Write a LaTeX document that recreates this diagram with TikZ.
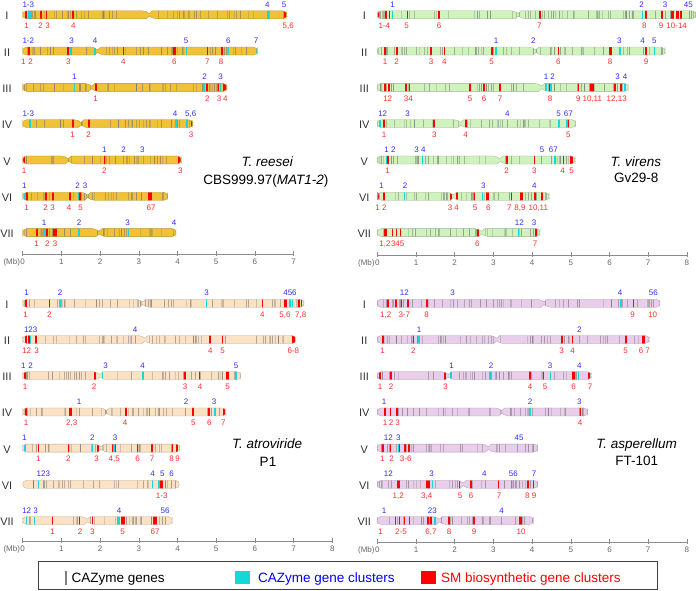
\documentclass[tikz,border=0pt]{standalone}
\usepackage{fontspec}
\setmainfont{Liberation Sans}
\usepackage{tikz}

\definecolor{chrgold}{RGB}{242,194,54}
\definecolor{chrgreen}{RGB}{208,242,188}
\definecolor{chrpeach}{RGB}{252,226,196}
\definecolor{chrlilac}{RGB}{232,206,234}
\definecolor{cazcyan}{RGB}{20,215,220}
\definecolor{smred}{RGB}{255,0,0}
\definecolor{labblue}{RGB}{45,45,255}
\definecolor{labred}{RGB}{255,45,45}

\tikzset{
  bluelab/.style={text=labblue, font=\fontsize{8}{9}\selectfont, inner sep=0pt, anchor=base},
  redlab/.style={text=labred, font=\fontsize{8}{9}\selectfont, inner sep=0pt, anchor=base},
  chrname/.style={text=black!80, font=\fontsize{11}{12}\selectfont, inner sep=0pt, anchor=base},
  strain/.style={font=\fontsize{13.5}{15}\selectfont, inner sep=0pt, anchor=base},
  axisline/.style={black!45, line width=0.6pt},
  ticklab/.style={text=black!60, font=\fontsize{8}{9}\selectfont, inner sep=0pt, anchor=base},
  legtext/.style={font=\fontsize{13.5}{15}\selectfont, inner sep=0pt, anchor=base west},
}

% #1 y, #2 start, #3 end, #4 centromere (0 = none), #5 colour, #6 seed,
% #7 CAZyme clusters (x/width), #8 SM clusters (x/width)
\newcommand{\chrom}[8]{%
  \ifdim #4pt=0pt
    \def\chrpath{[rounded corners=3.9pt] (#2,#1-4) rectangle (#3,#1+4)}%
  \else
    \def\chrpath{(#2,#1) [rounded corners=3.9pt] |- (#4-3,#1-4) [sharp corners] -- (#4,#1-1.3) -- (#4+3,#1-4) -- (#3-4,#1-4) [rounded corners=3.9pt] -| (#3,#1) |- (#4+3,#1+4) [sharp corners] -- (#4,#1+1.3) -- (#4-3,#1+4) -- (#2+4,#1+4) [rounded corners=3.9pt] -| (#2,#1) -- cycle}%
  \fi
  \begin{scope}
    \clip \chrpath;
    \fill[#5] (#2-1,#1-5) rectangle (#3+1,#1+5);
    % CAZyme genes
    \pgfmathsetseed{#6}
    \pgfmathtruncatemacro\nstripes{(#3-#2)/5.5}
    \foreach \k in {1,...,\nstripes} {
      \pgfmathsetmacro\sx{#2+1+rnd*(#3-#2-2)}
      \pgfmathsetmacro\so{0.25+0.4*rnd}
      \fill[black!55, opacity=\so] (\sx-0.5,#1-5) rectangle (\sx+0.5,#1+5);
    }
    \foreach \c/\w in {#7} \fill[cazcyan] (\c-\w/2,#1-5) rectangle (\c+\w/2,#1+5);
    \foreach \s/\w in {#8} \fill[smred] (\s-\w/2,#1-5) rectangle (\s+\w/2,#1+5);
  \end{scope}
  \draw[#5!75!black, line width=0.3pt] \chrpath;
}

% #1 name, #2 y, #3 cluster labels above, #4 SM labels below
\newcommand{\chrlab}[4]{%
  \foreach \x/\t [count=\i] in {#3} \node[bluelab] (#1b\i) at (\x,#2-7.4) {\t};
  \foreach \x/\t [count=\i] in {#4} \node[redlab] (#1r\i) at (\x,#2+13.7) {\t};
}

\begin{document}
\begin{tikzpicture}[x=1pt, y=-1pt]
  \useasboundingbox (0,0) rectangle (696,591);

  % Chromosome names
  \foreach \n [count=\k from 0] in {I,II,III,IV,V,VI,VII} {
    \node[chrname] (re\n) at (7,19.8+36.3*\k) {\n};
    \node[chrname] (vi\n) at (364.3,19.8+36.3*\k) {\n};
    \node[chrname] (at\n) at (7,308.3+36.2*\k) {\n};
    \node[chrname] (as\n) at (364.3,308.3+36.2*\k) {\n};
  }

  % T. reesei
  \chrom{14.8}{22.7}{286.7}{149.3}{chrgold}{11}{29.7/3.6, 268/1.4, 283.5/1.4}{25.8/1.8, 41/1.8, 46.5/1.4, 73/1.6, 285.5/2.5}
  \chrlab{reI}{14.8}{28.3/1-3, 267.3/4, 284/5}{26.7/1, 40.7/2, 47.7/3, 73.3/4, 288.3/{5,6}}
  \chrom{51.1}{22.7}{257.3}{97.7}{chrgold}{12}{28/1.4, 70/1.2, 95/1.4, 186/1, 228.3/1, 256/1}{29.3/2, 68.3/1.8, 123.3/1.4, 174.7/3, 207.3/1.4, 221.7/1.6}
  \chrlab{reII}{51.1}{28.3/1-2, 71.7/3, 95/4, 186/5, 228.3/6, 256/7}{23.3/1, 30.7/2, 68.3/3, 123.3/4, 174.3/6, 207.3/7, 221/8}
  \chrom{87.4}{22.7}{226.7}{91.7}{chrgold}{13}{74.3/1.2, 204/1.4, 220.7/1.4}{95.7/2, 206.7/1.8, 218.7/1.4, 224.5/2.5}
  \chrlab{reIII}{87.4}{74.3/1, 204.7/2, 220.7/3}{95.7/1, 207.3/2, 219/3, 225.3/4}
  \chrom{123.7}{22.7}{192.7}{81}{chrgold}{14}{30/1.2, 176/1.2, 186.7/2}{72.7/2, 88.7/2, 191.5/2}
  \chrlab{reIV}{123.7}{28.3/1-3, 175/4, 190.7/{5,6}}{72.7/1, 88.7/2, 191/3}
  \chrom{160}{22.7}{181}{68.3}{chrgold}{15}{105.3/1.2, 123.7/1.2, 143.3/1.2}{24/2, 104.3/1.6, 179.5/2.5}
  \chrlab{reV}{160}{104.3/1, 123.7/2, 142.3/3}{24/1, 104.3/2, 180.3/3}
  \chrom{196.3}{22.7}{167.7}{87.7}{chrgold}{16}{25/1.2, 78.3/1.4, 81.3/1.2}{26.7/1.8, 45.7/1.6, 52.7/1.6, 70/2.2, 80/1.6, 149/1.6, 150.8/1.6}
  \chrlab{reVI}{196.3}{24.3/1, 77.7/2, 85/3}{26.7/1, 45.7/2, 52.7/3, 69/4, 80.7/5, 151/67}
  \chrom{232.6}{22.7}{176}{99}{chrgold}{17}{44.5/2.4, 79/1.2, 128.3/1.2, 173.3/1}{36.7/1.6, 46.7/1.6, 55.3/4}
  \chrlab{reVII}{232.6}{44/1, 79/2, 127.7/3, 174/4}{36.7/1, 47.3/2, 55/3}

  % T. virens
  \chrom{14.8}{377.3}{695.7}{518.3}{chrgreen}{21}{392.7/1.4, 642.7/1.4, 665.7/1.2, 689.3/1.2, 691/1}{378.3/1.6, 385.7/2, 389.3/1.4, 407.3/1.6, 439/1.6, 540/2, 645.7/1.6, 662/1.6, 672.5/3.6, 677.3/2.6, 681/1.6}
  \chrlab{viI}{14.8}{392.7/1, 641.7/2, 665/3, 688.3/45}{384.3/1-4, 406.7/5, 439/6, 539.3/7, 644.3/8, 661/9, 676.7/10-14}
  \chrom{51.1}{377.3}{665}{535.7}{chrgreen}{22}{496/1.2, 533.3/1.2, 620/1.2, 643.3/1.2, 654.3/1.2}{385/1.8, 396.7/1.6, 431/1.2, 444.3/1.2, 491.7/2.2, 558.3/1.6, 610/3, 646/1.8}
  \chrlab{viII}{51.1}{496/1, 533.3/2, 619.3/3, 642.7/4, 654.3/5}{385/1, 396.7/2, 431/3, 444.3/4, 491.7/5, 558.3/6, 610/8, 646/9}
  \chrom{87.4}{377.3}{628.3}{541.7}{chrgreen}{23}{546/1.2, 551/1.2, 617.7/1.4, 625/1.4}{385/1.6, 388.7/1.6, 406/1.4, 409.3/1.6, 470/1.2, 484/1.2, 500/1.8, 549.3/1.6, 578.3/1.2, 592/3.4, 615/1.6, 621.3/1.8}
  \chrlab{viIII}{87.4}{546/1, 552.7/2, 617.7/3, 625/4}{387.7/12, 408.3/34, 470/5, 484/6, 500/7, 550/8, 578.3/9, 592.3/{10,11}, 616.7/{12,13}}
  \chrom{123.7}{377.3}{575.7}{460.7}{chrgreen}{24}{380/1.2, 507.3/1.2, 558.7/1.2, 566.7/1.6}{384/2, 434.3/1.8, 465.7/1.6, 568.5/1.6}
  \chrlab{viIV}{123.7}{382.7/12, 407.7/3, 507.3/4, 558.7/5, 568.3/67}{384/1, 434.3/3, 465.7/4, 568.3/5}
  \chrom{160}{377.3}{575}{500}{chrgreen}{25}{386.7/1.2, 393.3/1.2, 417.7/1.2, 422.7/1.2, 541.7/1.2, 551.7/1.2, 555/1.2}{387.7/1.6, 506.7/1.8, 534.3/1.6, 563.3/1.4, 571.3/2.8}
  \chrlab{viV}{160}{386.7/1, 393.3/2, 416.7/3, 423.3/4, 542/5, 553.3/67}{387.7/1, 506.7/2, 534.3/3, 562.7/4, 571.7/5}
  \chrom{196.3}{377.3}{549}{453.3}{chrgreen}{26}{404.3/1.2, 482.7/1.2, 534.3/1.2}{378/1.4, 384/2, 451/1.4, 457.3/2, 474.7/1.4, 487.7/3, 511.7/1.4, 521.7/2.8, 535/1.4, 541.7/1.6}
  \chrlab{viVI}{196.3}{381.7/1, 405/2, 483.3/3, 534.3/4}{377.7/1, 384.3/2, 450/3, 456.7/4, 475/5, 488.3/6, 509.3/7, 520/{8,9}, 538.3/{10,11}}
  \chrom{232.6}{377.3}{540}{481.7}{chrgreen}{27}{518.3/1.2, 521.7/1.2, 533.3/1.2}{385.7/3, 392.7/1.4, 396.7/1.4, 400.7/1.4, 477.7/1.8, 536/1.6}
  \chrlab{viVII}{232.6}{519.3/12, 534/3}{385/{1,2}, 397.7/345, 477.3/6, 535/7}

  % T. atroviride
  \chrom{303.3}{22.7}{304}{142.7}{chrpeach}{31}{60/1.2, 206.7/1.2, 290/1.4, 292.7/1.4}{25.7/1.6, 49.3/1.6, 262.3/1.6, 285.5/3.5, 299/1.4, 301.3/1.6}
  \chrlab{atI}{303.3}{26.7/1, 60/2, 206.7/3, 290/456}{25.7/1, 49.3/2, 262.3/4, 285/{5,6}, 300.7/{7,8}}
  \chrom{339.5}{22.7}{296}{145}{chrpeach}{32}{30.7/1.2, 135.7/1.2}{26/1.4, 29/1.2, 36/2, 210/2, 222.7/1.2, 293/3}
  \chrlab{atII}{339.5}{30.7/123, 135/4}{26.7/12, 36.7/3, 210.3/4, 222.7/5, 293.3/6-8}
  \chrom{375.7}{22.7}{240.7}{100}{chrpeach}{33}{27.3/1.4, 102.7/1.2, 142.7/1.6, 236/1.2}{25/1.6, 95/2, 185/1.2, 199.3/1.2, 227/3}
  \chrlab{atIII}{375.7}{23.3/1, 30.7/2, 105.7/3, 142.7/4, 236/5}{25/1, 94/2, 185/3, 200/4, 227.7/5}
  \chrom{411.9}{22.7}{226}{106.7}{chrpeach}{34}{79.3/1.2, 185.7/1.2, 215/1.2}{26/1.6, 70/3, 125.7/1.6, 192.7/1.6, 209.3/2, 223.5/2}
  \chrlab{atIV}{411.9}{79/1, 186/2, 214/3}{26/1, 71.7/{2,3}, 125/4, 193.3/5, 209.3/6, 223.3/7}
  \chrom{448.1}{22.7}{180}{101}{chrpeach}{35}{25/1.2, 92.3/1.2, 114/1.2}{38.3/1.2, 68.3/1.2, 97.7/1.6, 112.3/1.4, 115.3/1.4, 137.7/1.2, 151.7/2, 172.3/1.6, 176.7/1.6}
  \chrlab{atV}{448.1}{24.3/1, 92.3/2, 115/3}{38.3/1, 68.3/2, 96.7/3, 114.3/{4,5}, 137.7/6, 152/7, 171.7/8, 177.7/9}
  \chrom{484.3}{22.7}{179.3}{0}{chrpeach}{36}{38.3/1.2, 43.3/1.2, 152.7/1.2, 159/1.2, 171.7/1.4}{161.3/2.8}
  \chrlab{atVI}{484.3}{43.3/123, 152.7/4, 162.3/5, 171.7/6}{161.7/1-3}
  \chrom{520.5}{22.7}{172.3}{87.3}{chrpeach}{37}{26.7/1.2, 34.3/1.2, 119/1.2, 165.7/1.4}{52.7/1.4, 79.3/1.6, 92.3/1.6, 122.7/4, 154.7/4}
  \chrlab{atVII}{520.5}{26.7/12, 35.7/3, 119/4, 165/56}{52.7/1, 80/2, 92.3/3, 122.7/5, 155/67}

  % T. asperellum
  \chrom{303.3}{377.3}{660}{544}{chrlilac}{41}{403.3/1.2, 453.3/1.2, 621/1.2, 651.7/1.4, 653.5/1.2}{387.8/2.5, 396/1.4, 401.7/1.4, 407.8/2.4, 426.7/1.6, 633.3/1.6}
  \chrlab{asI}{303.3}{404.3/12, 452.7/3, 620/4, 653.3/56}{385.7/{1,2}, 404.3/3-7, 426.7/8, 632.7/9, 652.7/10}
  \chrom{339.5}{377.3}{649}{496.7}{chrlilac}{42}{419/1.2, 579.3/1.2}{382.7/1.6, 413.3/1.6, 561.7/1.6, 572.7/1.4, 625.7/1.6, 643.3/3}
  \chrlab{asII}{339.5}{419/1, 579.3/2}{382.7/1, 413.3/2, 561.7/3, 572.7/4, 625.7/5, 641/6, 647.7/7}
  \chrom{375.7}{377.3}{591}{448.3}{chrlilac}{43}{451/1.6, 491/1.6, 550.7/1.2, 578.3/1.2}{380/1.6, 391/1.2, 445/2, 530/1.2, 543.7/1.2, 573.7/3, 589.3/2}
  \chrlab{asIII}{375.7}{451.7/1, 491/2, 550/3, 579.3/4}{380/1, 391/2, 445.7/3, 530/4, 545/5, 573.7/6, 590/7}
  \chrom{411.9}{377.3}{587.7}{501.7}{chrlilac}{44}{530/1.2, 579.3/1}{385/1.6, 390.3/1.4, 397.3/2, 580.3/1.4}
  \chrlab{asIV}{411.9}{384/1, 530/2, 579.3/3}{385/1, 391/2, 397.7/3, 580/4}
  \chrom{448.1}{377.3}{537.7}{488.3}{chrlilac}{45}{387.3/1.2, 389.3/1.2, 398.3/1.2, 517.3/1.2}{382.7/1.6, 390.7/1.4, 399.3/1.4, 405/1.6, 409/1.6}
  \chrlab{asV}{448.1}{388.3/12, 398.3/3, 519/45}{382.3/1, 391.7/2, 405.7/3-6}
  \chrom{484.3}{377.3}{537.7}{463.3}{chrlilac}{46}{391.7/1.2, 432.3/1.2, 485.7/1.2, 513.3/1.2, 515.7/1.2}{398.3/3.5, 428/3.8, 459.3/1.6, 471/1.6, 498.3/1.6, 527.7/1.8, 533.3/1.6}
  \chrlab{asVI}{484.3}{388.3/12, 431.7/3, 484.3/4, 513.3/56, 534/7}{398.3/{1,2}, 426.7/{3,4}, 460/5, 471/6, 499/7, 527.3/8, 534/9}
  \chrom{520.5}{377.3}{533.3}{439.3}{chrlilac}{47}{435/1.2, 501.7/1.2}{395.7/1.4, 399.3/1.4, 404.3/1.4, 409.3/1.2, 427.7/1.6, 431/1.4, 449/1.6, 474/1.6, 520.7/3}
  \chrlab{asVII}{520.5}{384/1, 432.3/23, 501.7/4}{380.7/1, 401/2-5, 431/{6,7}, 449/8, 474/9, 521/10}

  % Scale bars (Mb)
  \foreach \p/\xo/\ya/\mx in {re/22.7/254.2/7, vi/377.3/255/8, at/22.7/541/8, as/377.3/542.3/8} {
    \coordinate (\p ax0) at (\xo,\ya);
    \coordinate (\p ax1) at (\xo+\mx*38.7,\ya);
    \draw[axisline] (\p ax0) -- (\p ax1);
    \foreach \m in {0,...,\mx} {
      \draw[axisline] (\xo+\m*38.7,\ya-3) -- (\xo+\m*38.7,\ya+1.5);
      \node[ticklab] (\p t\m) at (\xo+\m*38.7,\ya+10) {\m};
    }
    \node[ticklab, anchor=base east] (\p mb) at (\xo-2.5,\ya+10) {(Mb)};
  }

  % Strains
  \node[strain] (reesei) at (267.5,166.7) {\textit{T. reesei}};
  \node[strain] (cbs) at (265.8,184) {CBS999.97(\textit{MAT1-2})};
  \node[strain] (virens) at (635.8,166.7) {\textit{T. virens}};
  \node[strain] (gv) at (636.3,182.5) {Gv29-8};
  \node[strain] (atrov) at (267.2,448.3) {\textit{T. atroviride}};
  \node[strain] (pone) at (268,466) {P1};
  \node[strain] (asper) at (636.7,448.3) {\textit{T. asperellum}};
  \node[strain] (ft) at (636.7,465) {FT-101};

  % Legend
  \draw[black!75, line width=0.8pt] (38,561) rectangle (657,589);
  \fill[black!50] (64.5,571) rectangle (67,585);
  \node[legtext] (lgcaz) at (71.5,582) {CAZyme genes};
  \fill[cazcyan] (235,570.5) rectangle (250,584.3);
  \node[legtext, text=blue] (lgcl) at (258,582) {CAZyme gene clusters};
  \fill[smred] (421,570.5) rectangle (436,584.3);
  \node[legtext, text=red] (lgsm) at (441,582) {SM biosynthetic gene clusters};
\end{tikzpicture}
\end{document}
